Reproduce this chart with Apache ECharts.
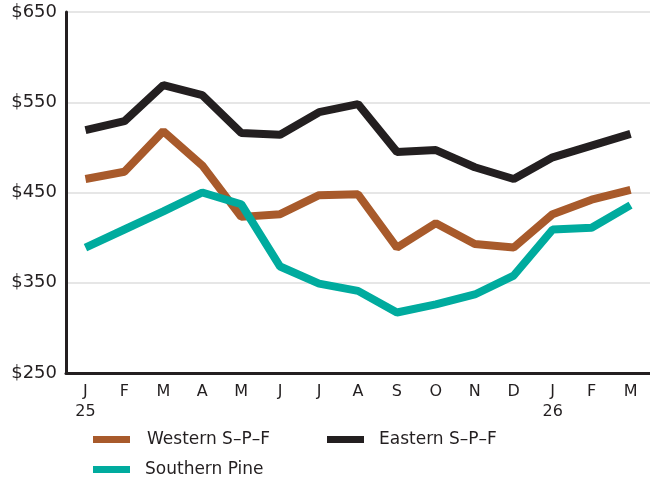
<!DOCTYPE html>
<html>
<head>
<meta charset="utf-8">
<script src="https://cdn.jsdelivr.net/npm/echarts@6/dist/echarts.min.js"></script>
<style>
  html, body { margin: 0; padding: 0; background: #fff; }
  #chart { width: 650px; height: 481px; }
</style>
</head>
<body>
<div id="chart"></div>
<script>
// month labels (year under first month of each year)
var months = ['J\n25', 'F', 'M', 'A', 'M', 'J', 'J', 'A', 'S', 'O', 'N', 'D', 'J\n26', 'F', 'M'];
var western = [465, 473, 518, 480, 423, 426, 447, 448, 389, 416, 393, 389, 426, 442, 453];
var eastern = [519, 529, 569, 558, 516, 514, 539, 548, 495, 497, 478, 465, 489, 502, 515];
var southern = [389, 409, 429, 450, 437, 368, 349, 341, 317, 326, 337, 358, 409, 411, 436];
var yTicks = [250, 350, 450, 550, 650];

var font = '"DejaVu Sans", sans-serif';
var colors = { western: '#a85a2b', eastern: '#231f20', southern: '#00ab9e' };

var myChart = echarts.init(document.getElementById('chart'));

function legendAt(name, left, top, gap) {
    return {
        data: [name],
        left: left,
        top: top,
        icon: 'rect',
        itemWidth: 37,
        itemHeight: 7,
        itemGap: 0,
        textStyle: { fontFamily: font, fontSize: 17, color: '#231f20', padding: [0, 0, 0, gap] },
        selectedMode: false
    };
}

myChart.setOption({
    animation: false,
    grid: { left: 66, top: 12, width: 588, height: 361 },
    legend: [
        legendAt('Western S–P–F', 88, 426, 12),
        legendAt('Eastern S–P–F', 322, 426, 10),
        legendAt('Southern Pine', 88, 456, 10)
    ],
    xAxis: {
        type: 'category',
        data: months,
        boundaryGap: true,
        axisTick: { show: false },
        axisLine: { lineStyle: { color: '#231f20', width: 3 } },
        axisLabel: { fontFamily: font, fontSize: 16, color: '#231f20', margin: 9, lineHeight: 20, interval: 0 }
    },
    yAxis: {
        type: 'value',
        min: yTicks[0],
        max: yTicks[yTicks.length - 1],
        interval: 100,
        axisLine: { show: true, lineStyle: { color: '#231f20', width: 3 } },
        axisTick: { show: false },
        axisLabel: {
            fontFamily: font, fontSize: 18, color: '#231f20', margin: 9,
            formatter: function (v) { return '$' + v; }
        },
        splitLine: { lineStyle: { color: '#e6e6e6', width: 2 } }
    },
    series: [
        { name: 'Western S–P–F', type: 'line', data: western, showSymbol: false,
          lineStyle: { width: 8, color: colors.western }, itemStyle: { color: colors.western } },
        { name: 'Eastern S–P–F', type: 'line', data: eastern, showSymbol: false,
          lineStyle: { width: 8, color: colors.eastern }, itemStyle: { color: colors.eastern } },
        { name: 'Southern Pine', type: 'line', data: southern, showSymbol: false,
          lineStyle: { width: 8, color: colors.southern }, itemStyle: { color: colors.southern } }
    ]
});
</script>
</body>
</html>
